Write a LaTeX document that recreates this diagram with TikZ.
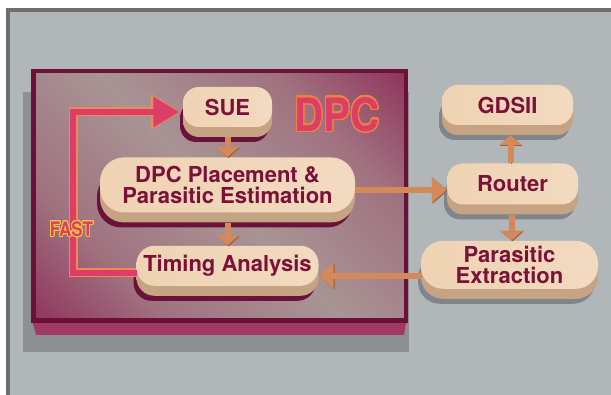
\documentclass[tikz,border=0pt]{standalone}
\usepackage{fontspec}
\setmainfont{TeX Gyre Heros}
\usepackage{contour}
\usetikzlibrary{positioning, arrows.meta}

\definecolor{bgc}{HTML}{B1B6B9}
\definecolor{frm}{HTML}{6E6E70}
\definecolor{dshd}{HTML}{8D8F92}
\definecolor{dpcb}{HTML}{6B1139}
\definecolor{dpcm}{HTML}{8E2A55}
\definecolor{dpcp}{HTML}{A07280}
\definecolor{dpcg}{HTML}{A89494}
\definecolor{dbv}{HTML}{A03A65}
\definecolor{dbvm}{HTML}{B06A80}
\definecolor{txt}{HTML}{7B1138}
\definecolor{facel}{HTML}{EFD3B3}
\definecolor{facem}{HTML}{FBE8D5}
\definecolor{facer}{HTML}{F2DAC0}
\definecolor{bvl}{HTML}{C6A383}
\definecolor{bvlm}{HTML}{E9D0B0}
\definecolor{shdin}{HTML}{6A1238}
\definecolor{shdout}{HTML}{80858B}
\definecolor{arr}{HTML}{D3895A}
\definecolor{arrd}{HTML}{9A5A32}
\definecolor{fastr}{HTML}{DD3E68}
\definecolor{fasto}{HTML}{F08A50}
\definecolor{dpco}{HTML}{EC8440}
\definecolor{fasty}{HTML}{F5C63C}

\pgfdeclarehorizontalshading{dpcshade}{100bp}{color(0bp)=(dpcm); color(12bp)=(dpcm); color(30bp)=(dpcp);
  color(50bp)=(dpcg); color(70bp)=(dpcp); color(88bp)=(dpcm); color(100bp)=(dpcm)}

\contourlength{1.3pt}
\contournumber{32}

\begin{document}
\begin{tikzpicture}[x=1pt, y=-1pt,
        blk/.style={rectangle, rounded corners=16pt, align=center, text=txt,
          font=\fontsize{22}{21}\selectfont\bfseries, inner sep=0pt,
          preaction={fill=#1, transform canvas={xshift=-3pt, yshift=-15pt}},
          preaction={left color=bvl, middle color=bvlm, right color=bvl, transform canvas={yshift=-10pt}},
          left color=facel, middle color=facem, right color=facer},
        blk/.default=shdin,
        ar/.style={line width=6pt, draw=arr, -{Triangle[width=22pt, length=10pt]},
          preaction={draw=arrd, transform canvas={shift={(0.8pt,-0.8pt)}}}},
        bigtip/.style={-{Triangle[width=25pt, length=15pt]}}]
        \useasboundingbox (0,0) rectangle (611,395);
        \clip (0,0) rectangle (611,395);

        % frame and DPC box
        \fill[white] (0,0) rectangle (611,395);
        \draw[line width=4pt, draw=frm, fill=bgc] (8,10) rectangle (620,405);
        \fill[dshd] (23,92) rectangle (409,352);
        \shade[left color=dbv, middle color=dbvm, right color=dbv] (33,323) -- (406,323) -- (404,335) -- (36,335) -- cycle;
        \shade[shading=dpcshade, shading angle=45] (33.25,71.25) rectangle (405.75,320.75);
        \draw[line width=4.5pt, draw=dpcb] (33.25,71.25) rectangle (405.75,320.75);
        \node[text=fastr, font=\fontsize{46}{46}\selectfont\bfseries] (dpc) at (337,115) {\scalebox{0.88}[1]{\contour{dpco}{DPC}}};

        % blocks
        \node[blk, minimum width=89pt, minimum height=40pt] (sue) at (227.5,107) {SUE};
        \node[blk, minimum width=255pt, minimum height=55pt, rounded corners=24pt, below=30pt of sue] (place) {DPC Placement \&\\Parasitic Estimation};
        \node[blk, minimum width=182pt, minimum height=40pt, rounded corners=18pt, below=33pt of place] (tim) {Timing Analysis};
        \node[blk=shdout, minimum width=131pt, minimum height=40pt] (gds) at (507.5,105) {GDSII};
        \node[blk=shdout, minimum width=131pt, minimum height=41pt, below=38pt of gds, xshift=5pt] (rtr) {Router};
        \node[blk=shdout, minimum width=177pt, minimum height=48pt, rounded corners=22pt, below=36pt of rtr, xshift=-3pt] (ext) {Parasitic\\Extraction};

        % flow arrows
        \draw[ar] ([yshift=-10pt]sue.south) -- (place.north);
        \draw[ar] ([yshift=-10pt]place.south) -- (tim.north);
        \draw[ar, bigtip] ([yshift=-5pt]place.east) -- ([yshift=-5pt]place.east -| rtr.west);
        \draw[ar, shorten >=10pt] ([xshift=-2pt]rtr.north) -- ([xshift=-2pt]rtr.north |- gds.south);
        \draw[ar] ([yshift=-10pt, xshift=-1pt]rtr.south) -- ([xshift=-1pt]rtr.south |- ext.north);
        \draw[ar, bigtip] ([yshift=-11pt]ext.west) -- ([yshift=-11pt]ext.west -| tim.east);

        % fast loop
        \draw[line width=9pt, draw=fasto, -{Triangle[width=34pt, length=30pt]}, shorten >=2pt]
          ([yshift=-7pt]tim.west) -- ++(-63pt,0) |- ([yshift=-5pt]sue.west);
        \draw[line width=6pt, draw=fastr, -{Triangle[width=29pt, length=26pt]}, shorten >=3.5pt]
          ([yshift=-7pt, xshift=1pt]tim.west) -- ++(-64pt,0) |- ([yshift=-5pt]sue.west);
        \node[text=fastr, font=\fontsize{20}{20}\selectfont\bfseries] (fast) at (71.5,229.5)
          {\contourlength{0.9pt}\scalebox{0.85}[1]{\contour{fasty}{FAST}}};
      \end{tikzpicture}
\end{document}
